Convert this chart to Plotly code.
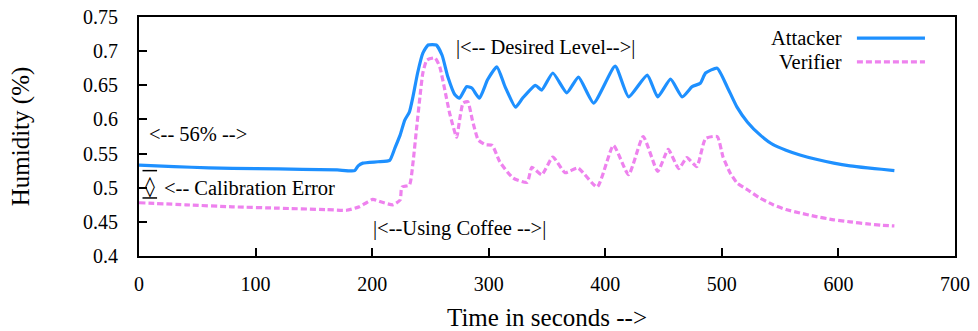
import plotly.graph_objects as go

# Humidity readings over time (seconds)
attacker_t = [0, 30, 60, 100, 140, 170, 185, 188, 192, 205, 215, 219.5, 224, 228, 232, 235,
              239, 243.5, 248, 255, 260, 265, 271, 275, 281, 285.5, 292, 299, 307, 314, 323,
              329, 340, 345.5, 355, 367, 377, 390, 408.5, 420, 436, 445, 456, 466, 474.5,
              481.5, 486, 496, 504.5, 513, 522, 533, 544, 555, 567, 580, 596, 610, 625, 637, 648]
attacker_h = [0.533, 0.531, 0.529, 0.528, 0.527, 0.526, 0.525, 0.532, 0.536, 0.538, 0.540,
              0.558, 0.577, 0.599, 0.611, 0.633, 0.668, 0.697, 0.709, 0.709, 0.694, 0.662,
              0.636, 0.631, 0.648, 0.646, 0.631, 0.658, 0.677, 0.648, 0.618, 0.631, 0.650,
              0.643, 0.668, 0.639, 0.662, 0.624, 0.678, 0.633, 0.665, 0.633, 0.659, 0.633,
              0.648, 0.653, 0.668, 0.675, 0.648, 0.618, 0.596, 0.577, 0.563, 0.555, 0.548,
              0.542, 0.536, 0.532, 0.529, 0.527, 0.525]

verifier_t = [0, 40, 80, 120, 160, 178, 189, 195, 200.5, 208, 218, 224, 225.5, 232, 235, 238,
              241, 243.5, 247, 254, 258, 262, 266.5, 272.5, 275, 278, 282, 286, 291, 297, 303,
              309.5, 321, 333, 337, 345.5, 355, 365.5, 376.5, 393, 407, 420, 432.5, 445, 454,
              463, 470, 478.5, 486, 496, 501, 507, 513, 522, 531.5, 544, 555, 567, 580, 596,
              610, 625, 637, 648]
verifier_h = [0.478, 0.475, 0.472, 0.470, 0.468, 0.467, 0.472, 0.478, 0.483, 0.479, 0.475,
              0.482, 0.501, 0.504, 0.536, 0.585, 0.633, 0.668, 0.687, 0.690, 0.677, 0.646,
              0.609, 0.574, 0.599, 0.624, 0.626, 0.599, 0.570, 0.563, 0.562, 0.538, 0.514,
              0.508, 0.530, 0.519, 0.545, 0.522, 0.529, 0.501, 0.562, 0.519, 0.575, 0.524,
              0.556, 0.528, 0.544, 0.531, 0.572, 0.575, 0.545, 0.522, 0.507, 0.497, 0.486,
              0.475, 0.468, 0.463, 0.458, 0.453, 0.450, 0.447, 0.445, 0.444]

x_ticks = [0, 100, 200, 300, 400, 500, 600, 700]
y_ticks = [0.4, 0.45, 0.5, 0.55, 0.6, 0.65, 0.7, 0.75]
y_tick_text = ["0.4", "0.45", "0.5", "0.55", "0.6", "0.65", "0.7", "0.75"]

BLUE = "#1e90ff"
VIOLET = "#ee82ee"
FONT = "Liberation Serif"

fig = go.Figure()
fig.add_trace(go.Scatter(x=attacker_t, y=attacker_h, mode="lines", name="Attacker",
                         line=dict(color=BLUE, width=3.2, shape="spline", smoothing=0.5)))
fig.add_trace(go.Scatter(x=verifier_t, y=verifier_h, mode="lines", name="Verifier",
                         line=dict(color=VIOLET, width=3.2, dash="6px,3px",
                                   shape="spline", smoothing=0.5)))

txt = dict(family=FONT, size=20.5, color="black")
annotations = [
    dict(x=349, y=0.706, text="|<-- Desired Level-->|", showarrow=False, font=txt),
    dict(x=51, y=0.579, text="<-- 56% -->", showarrow=False, font=txt),
    dict(x=20, y=0.500, text="<-- Calibration Error", showarrow=False, font=txt, xanchor="left"),
    dict(x=9.5, y=0.503, text="◊", showarrow=False,
         font=dict(family="DejaVu Serif", size=20, color="black")),
    dict(x=275, y=0.441, text="|<--Using Coffee -->|", showarrow=False, font=txt),
    # legend labels
    dict(x=0.8640, y=0.912, xref="paper", yref="paper", text="Attacker", showarrow=False,
         font=txt, xanchor="right", yanchor="middle"),
    dict(x=0.8640, y=0.812, xref="paper", yref="paper", text="Verifier", showarrow=False,
         font=txt, xanchor="right", yanchor="middle"),
]

shapes = [
    # bars of the calibration-error marker
    dict(type="line", x0=3, x1=15.5, y0=0.525, y1=0.525, line=dict(color="black", width=1.5)),
    dict(type="line", x0=3, x1=15.5, y0=0.485, y1=0.485, line=dict(color="black", width=1.5)),
    # legend line samples
    dict(type="line", xref="paper", yref="paper", x0=0.8798, x1=0.9632, y0=0.912, y1=0.912,
         line=dict(color=BLUE, width=3.2)),
    dict(type="line", xref="paper", yref="paper", x0=0.8798, x1=0.9632, y0=0.812, y1=0.812,
         line=dict(color=VIOLET, width=3.2, dash="6px,3px")),
]

fig.update_layout(
    width=978, height=331,
    margin=dict(l=139, r=23, t=17, b=75),
    paper_bgcolor="white", plot_bgcolor="white",
    showlegend=False,
    font=dict(family=FONT, size=20, color="black"),
    annotations=annotations,
    shapes=shapes,
)
fig.update_xaxes(
    range=[0, 700], tickvals=x_ticks, ticks="inside", ticklen=8, tickwidth=1.5,
    tickcolor="black", showline=True, linecolor="black", linewidth=2, mirror=True,
    showgrid=False, zeroline=False, ticklabelstandoff=9, automargin=False,
    tickfont=dict(family=FONT, size=20),
    title=dict(text="Time in seconds -->", font=dict(family=FONT, size=25), standoff=16),
)
fig.update_yaxes(
    range=[0.4, 0.75], tickvals=y_ticks, ticktext=y_tick_text, ticks="inside", ticklen=8,
    tickwidth=1.5, tickcolor="black", showline=True, linecolor="black", linewidth=2,
    mirror=True, showgrid=False, zeroline=False, ticklabelstandoff=15, automargin=False,
    tickfont=dict(family=FONT, size=20),
    title=dict(text="Humidity (%)", font=dict(family=FONT, size=25), standoff=46),
)

fig.write_html("out.html")
